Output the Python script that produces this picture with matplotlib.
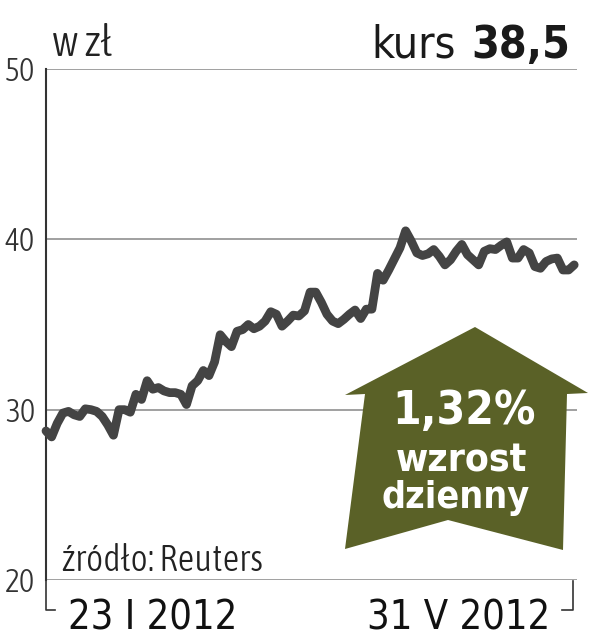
import numpy as np
import matplotlib
matplotlib.use("Agg")
import matplotlib.pyplot as plt
import matplotlib.transforms as mtransforms
from matplotlib.patches import Polygon
from matplotlib import font_manager as fm

# kurs akcji, 23 I 2012 - 31 V 2012 (sesje)
kurs = [28.75, 28.4, 29.2, 29.8, 29.9, 29.7, 29.6, 30.05, 30.0, 29.9,
        29.6, 29.1, 28.5, 30.0, 30.0, 29.85, 30.9, 30.6, 31.7, 31.2,
        31.3, 31.1, 31.0, 31.0, 30.9, 30.3, 31.4, 31.7, 32.3, 32.0,
        32.8, 34.4, 34.0, 33.7, 34.6, 34.7, 35.0, 34.75, 34.9, 35.2,
        35.75, 35.6, 34.9, 35.2, 35.55, 35.5, 35.8, 36.9, 36.9, 36.3,
        35.6, 35.2, 35.05, 35.3, 35.6, 35.85, 35.35, 35.9, 35.9, 38.0,
        37.6, 38.2, 38.85, 39.5, 40.5, 39.9, 39.2, 39.05, 39.15, 39.4,
        39.0, 38.5, 38.8, 39.3, 39.7, 39.1, 38.8, 38.5, 39.3, 39.45,
        39.4, 39.65, 39.85, 38.9, 38.9, 39.4, 39.2, 38.4, 38.3, 38.7,
        38.85, 38.9, 38.2, 38.2, 38.5]
y_ticks = [20, 30, 40, 50]
data_od = "23 I 2012"
data_do = "31 V 2012"
ostatni_kurs = "38,5"
zmiana = "1,32"


# look for a condensed face, the original uses a narrow DIN-like font
def find_font(weights):
    best = None
    for f in fm.fontManager.ttflist:
        fn = f.fname.lower()
        if "italic" in fn or "oblique" in fn:
            continue
        if not ("condensed" in fn or "narrow" in fn):
            continue
        if "semicondensed" in fn or "extracondensed" in fn:
            continue
        if f.weight not in weights:
            continue
        score = weights.index(f.weight)
        if best is None or score < best[0]:
            best = (score, f.fname)
    return best[1] if best else None


f_light = find_font([300, 400, "light", "normal", 200])
f_reg = find_font([400, "normal", "regular", 300, 500])
f_bold = find_font([700, "bold", 800, 600])


def fp(path, size, bold=False):
    if path:
        return fm.FontProperties(fname=path, size=size)
    return fm.FontProperties(family="Liberation Sans", size=size,
                             weight="bold" if bold else "normal")


fig = plt.figure(figsize=(6.1, 6.4), dpi=100)
ax = fig.add_axes([46 / 610, 60 / 640, 531 / 610, 511 / 640])

x = np.arange(len(kurs))
ax.plot(x, kurs, color="#444444", lw=6.3, solid_joinstyle="round",
        solid_capstyle="round", clip_on=False, zorder=3)

ax.set_ylim(20, 50)
ax.set_xlim(0, 94.5)
for t in y_ticks:
    ax.axhline(t, color="#999999", lw=1.3, zorder=1)

for s in ["top", "right", "bottom"]:
    ax.spines[s].set_visible(False)
ax.spines["left"].set_color("#333333")
ax.spines["left"].set_linewidth(1.5)
ax.set_xticks([])
ax.set_yticks(y_ticks)
ax.set_yticklabels([str(t) for t in y_ticks], fontproperties=fp(f_light, 23),
                   color="#333333")
ax.tick_params(axis="y", length=0, pad=8)

# pixel coords (from top-left) on the figure
px = mtransforms.Affine2D().scale(1 / 610, -1 / 640).translate(0, 1) + fig.transFigure

# brackets under the axis
fig.add_artist(plt.Line2D([46, 46, 55], [581, 610, 610], transform=px,
                          color="#333333", lw=1.2))
fig.add_artist(plt.Line2D([573, 573, 562], [581, 610, 610], transform=px,
                          color="#333333", lw=1.2))

fig.text(52, 56, "w zł", transform=px, fontproperties=fp(f_light, 32),
         color="#222222", va="baseline")
fig.text(456, 58, "kurs", transform=px, fontproperties=fp(f_reg, 32),
         color="#1a1a1a", ha="right", va="baseline")
fig.text(570, 58, ostatni_kurs, transform=px,
         fontproperties=fp(f_bold, 32, True),
         color="#1a1a1a", ha="right", va="baseline")
fig.text(62, 571, "źródło: Reuters", transform=px,
         fontproperties=fp(f_light, 26.5), color="#222222", va="baseline")
fig.text(68, 630, data_od, transform=px, fontproperties=fp(f_reg, 28.5),
         color="#111111", va="baseline")
fig.text(550, 630, data_do, transform=px, fontproperties=fp(f_reg, 28.5),
         color="#111111", ha="right", va="baseline")

# strzalka
arrow = [(475, 327), (588, 393), (567, 394), (563, 550), (448, 520),
         (345, 549), (365, 394), (345, 395)]
fig.add_artist(Polygon(arrow, closed=True, transform=px,
                       facecolor="#5a6127", edgecolor="none"))
fig.text(464, 424, zmiana + "%", transform=px,
         fontproperties=fp(f_bold, 33, True), color="white",
         ha="center", va="baseline")
fig.text(461, 472, "wzrost", transform=px,
         fontproperties=fp(f_bold, 28, True), color="white",
         ha="center", va="baseline")
fig.text(456, 508, "dzienny", transform=px,
         fontproperties=fp(f_bold, 27, True), color="white",
         ha="center", va="baseline")

fig.savefig("out.png", dpi=100)
